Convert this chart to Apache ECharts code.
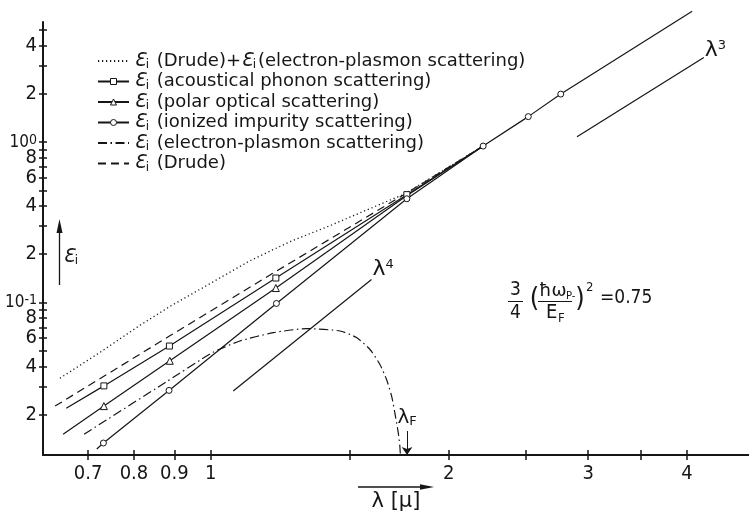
<!DOCTYPE html>
<html>
<head>
<meta charset="utf-8">
<script src="https://cdn.jsdelivr.net/npm/echarts@6.0.0/dist/echarts.min.js"></script>
<style>
html,body{margin:0;padding:0;background:#fff;}
#chart{width:749px;height:516px;}
</style>
</head>
<body>
<div id="chart"></div>
<script>
// ε_i versus wavelength λ [μm] for the individual absorption mechanisms
const drudeX = [0.636, 0.887, 1.209, 1.77, 2.21];
const drudeY = [0.0226, 0.0617, 0.156, 0.482, 0.944];

const sumX = [0.645, 0.725, 0.814, 0.888, 0.998, 1.121, 1.259, 1.415, 1.589, 1.759, 2.21];
const sumY = [0.0337, 0.0489, 0.0720, 0.0944, 0.131, 0.182, 0.239, 0.301, 0.384, 0.475, 0.944];

const acX = [0.657, 0.733, 0.887, 1.209, 1.77, 2.21];
const acY = [0.0219, 0.0302, 0.0535, 0.142, 0.47, 0.944];
const acMarked = [false, true, true, true, true, false];

const poX = [0.651, 0.733, 0.888, 1.209, 1.765, 2.21];
const poY = [0.0151, 0.0226, 0.0433, 0.123, 0.46, 0.944];
const poMarked = [false, true, true, true, false, false];

const iiX = [0.718, 0.732, 0.886, 1.211, 1.77, 2.21, 2.52, 2.77, 4.06];
const iiY = [0.0122, 0.0133, 0.0283, 0.0986, 0.443, 0.944, 1.44, 1.99, 6.54];
const iiMarked = [false, true, true, true, true, true, true, true, false];

const epX = [0.692, 0.880, 1.007, 1.089, 1.200, 1.322, 1.457, 1.529, 1.589, 1.636, 1.668, 1.693, 1.709, 1.726, 1.734, 1.737];
const epY = [0.0151, 0.0321, 0.0489, 0.0575, 0.0648, 0.0687, 0.0664, 0.0604, 0.0511, 0.0412, 0.0332, 0.0262, 0.0206, 0.0155, 0.0128, 0.0112];

// power-law guide lines
const l4X = [1.068, 1.597];
const l4Y = [0.0281, 0.139];
const l3X = [2.904, 4.20];
const l3Y = [1.079, 3.36];

// Fermi wavelength marker
const lambdaF = 1.771;
const lambdaFArrowY = [0.0158, 0.0112];

// axis ticks and labels
const xTicks = [0.7, 0.8, 0.9, 1, 1.5, 2, 2.5, 3, 3.5, 4];
const xLabels = [0.7, 0.8, 0.9, 1, 2, 3, 4];
const yTicks = [5, 4, 3, 2, 1, 0.9, 0.8, 0.7, 0.6, 0.5, 0.4, 0.3, 0.2,
                0.1, 0.09, 0.08, 0.07, 0.06, 0.05, 0.04, 0.03, 0.02];
const yLabels = [4, 2, 1, 0.8, 0.6, 0.4, 0.2, 0.1, 0.08, 0.06, 0.04, 0.02];

const X_MIN = 0.614, X_MAX = 4.79, Y_MIN = 0.0112, Y_MAX = 5.6;

const INK = '#161616';
const NUM_FONT = "'Liberation Sans Narrow','DejaVu Sans Condensed',sans-serif";
const TXT_FONT = "'DejaVu Sans',sans-serif";

function pts(xs, ys, marked) {
  return xs.map((x, i) => {
    const item = { value: [x, ys[i]] };
    if (marked && !marked[i]) item.symbol = 'none';
    return item;
  });
}

const legendText = {
  sum: '{e|Ɛ}{s|i} (Drude)+{e|Ɛ}{s|i}(electron-plasmon scattering)',
  ac: '{e|Ɛ}{s|i} (acoustical phonon scattering)',
  po: '{e|Ɛ}{s|i} (polar optical scattering)',
  ii: '{e|Ɛ}{s|i} (ionized impurity scattering)',
  ep: '{e|Ɛ}{s|i} (electron-plasmon scattering)',
  drude: '{e|Ɛ}{s|i} (Drude)'
};

const baseLine = { color: INK, width: 1.2 };
const openMark = { color: '#fff', borderColor: INK, borderWidth: 1 };
const noMark = { opacity: 0 };

const chart = echarts.init(document.getElementById('chart'), null, { renderer: 'canvas' });

const logAxisCommon = { type: 'log', logBase: 10, splitLine: { show: false }, minorTick: { show: false } };

chart.setOption({
  animation: false,
  backgroundColor: '#fff',
  grid: { left: 43, right: 0, top: 22, bottom: 61, containLabel: false, outerBoundsMode: 'none' },
  legend: {
    orient: 'vertical', left: 97, top: 51, padding: 0, itemGap: 0.5,
    itemWidth: 31, itemHeight: 7.5, selectedMode: false,
    data: [
      { name: 'sum', itemStyle: noMark },
      { name: 'ac', itemStyle: { color: '#fff', borderColor: INK, borderWidth: 1 } },
      { name: 'po', itemStyle: { color: '#fff', borderColor: INK, borderWidth: 1 } },
      { name: 'ii', itemStyle: { color: '#fff', borderColor: INK, borderWidth: 1 } },
      { name: 'ep', itemStyle: noMark },
      { name: 'drude', itemStyle: noMark }
    ],
    formatter: name => legendText[name],
    textStyle: {
      color: INK, fontFamily: TXT_FONT, fontSize: 18, lineHeight: 20,
      rich: {
        e: { fontFamily: TXT_FONT, fontStyle: 'italic', fontSize: 19, lineHeight: 20 },
        s: { fontSize: 12, lineHeight: 12, verticalAlign: 'bottom', padding: [0, 2, 0, 0] }
      }
    }
  },
  xAxis: [
    Object.assign({}, logAxisCommon, {
      min: X_MIN, max: X_MAX, position: 'bottom',
      axisLine: { show: true, lineStyle: { color: INK, width: 2 } },
      axisTick: { show: true, customValues: xTicks, length: 5, lineStyle: { color: INK, width: 1.5 } },
      axisLabel: {
        show: true, customValues: xLabels, margin: 9, hideOverlap: false,
        color: INK, fontFamily: NUM_FONT, fontSize: 20,
        formatter: v => String(Math.round(v * 10) / 10)
      },
      name: 'λ [μ]', nameLocation: 'middle', nameGap: 36,
      nameTextStyle: { color: INK, fontFamily: TXT_FONT, fontSize: 21 }
    }),
    Object.assign({}, logAxisCommon, {
      min: X_MIN, max: X_MAX, position: 'bottom',
      axisLine: { show: false },
      axisTick: { show: true, inside: true, customValues: xTicks, length: 5, lineStyle: { color: INK, width: 1.5 } },
      axisLabel: { show: false }
    })
  ],
  yAxis: [
    Object.assign({}, logAxisCommon, {
      min: Y_MIN, max: Y_MAX, position: 'left',
      axisLine: { show: true, lineStyle: { color: INK, width: 2 } },
      axisTick: { show: true, customValues: yTicks, length: 4, lineStyle: { color: INK, width: 1.5 } },
      axisLabel: {
        show: true, customValues: yLabels, margin: 6, hideOverlap: false,
        color: INK, fontFamily: NUM_FONT, fontSize: 20,
        formatter: v => {
          if (Math.abs(v - 1) < 1e-9) return '{b|10}{p|0}';
          if (Math.abs(v - 0.1) < 1e-9) return '{b|10}{p|-1}';
          const d = v >= 1 ? v : (v >= 0.1 ? v * 10 : v * 100);
          return String(Math.round(d));
        },
        rich: {
          b: { fontFamily: NUM_FONT, fontSize: 17, color: INK, verticalAlign: 'bottom', lineHeight: 18 },
          p: { fontFamily: NUM_FONT, fontSize: 14, color: INK, verticalAlign: 'top', lineHeight: 14 }
        }
      }
    }),
    Object.assign({}, logAxisCommon, {
      min: Y_MIN, max: Y_MAX, position: 'left',
      axisLine: { show: false },
      axisTick: { show: true, inside: true, customValues: yTicks, length: 4, lineStyle: { color: INK, width: 1.5 } },
      axisLabel: { show: false }
    })
  ],
  series: [
    {
      name: 'sum', type: 'line', symbol: 'none', data: pts(sumX, sumY),
      lineStyle: Object.assign({}, baseLine, { type: [1.2, 2.8], width: 1.3 }),
      itemStyle: { color: INK }
    },
    {
      name: 'drude', type: 'line', symbol: 'none', data: pts(drudeX, drudeY),
      lineStyle: Object.assign({}, baseLine, { type: [8, 5] }),
      itemStyle: { color: INK }
    },
    {
      name: 'ac', type: 'line', symbol: 'rect', symbolSize: 6, showAllSymbol: true,
      data: pts(acX, acY, acMarked),
      lineStyle: baseLine, itemStyle: openMark
    },
    {
      name: 'po', type: 'line', symbol: 'triangle', symbolSize: 7, showAllSymbol: true,
      data: pts(poX, poY, poMarked),
      lineStyle: baseLine, itemStyle: openMark
    },
    {
      name: 'ii', type: 'line', symbol: 'circle', symbolSize: 6, showAllSymbol: true, clip: false,
      data: pts(iiX, iiY, iiMarked),
      lineStyle: baseLine, itemStyle: openMark
    },
    {
      name: 'ep', type: 'line', symbol: 'none', smooth: 0.2, data: pts(epX, epY),
      lineStyle: Object.assign({}, baseLine, { type: [9, 3.5, 1.5, 3.5] }),
      itemStyle: { color: INK },
      markLine: {
        silent: true, symbol: ['none', 'arrow'], symbolSize: 8,
        lineStyle: { color: INK, width: 1, type: 'solid' },
        itemStyle: { color: INK },
        label: {
          show: true, position: 'start', distance: 3, color: INK,
          formatter: '{l|λ}{f|F}',
          rich: {
            l: { fontFamily: TXT_FONT, fontSize: 20, color: INK },
            f: { fontFamily: TXT_FONT, fontSize: 13, color: INK, verticalAlign: 'bottom', lineHeight: 14 }
          }
        },
        data: [[{ coord: [lambdaF, lambdaFArrowY[0]] }, { coord: [lambdaF, lambdaFArrowY[1]] }]]
      }
    },
    {
      name: 'λ4', type: 'line', symbol: 'none', data: pts(l4X, l4Y),
      lineStyle: baseLine, itemStyle: { color: INK },
      endLabel: {
        show: true, distance: 1, offset: [0, -10], color: INK,
        formatter: () => '{l|λ}{n|4}',
        rich: {
          l: { fontFamily: TXT_FONT, fontSize: 22, color: INK },
          n: { fontFamily: TXT_FONT, fontSize: 13, color: INK, verticalAlign: 'top', lineHeight: 13 }
        }
      }
    },
    {
      name: 'λ3', type: 'line', symbol: 'none', data: pts(l3X, l3Y),
      lineStyle: baseLine, itemStyle: { color: INK },
      endLabel: {
        show: true, distance: 1, offset: [0, -7], color: INK,
        formatter: () => '{l|λ}{n|3}',
        rich: {
          l: { fontFamily: TXT_FONT, fontSize: 22, color: INK },
          n: { fontFamily: TXT_FONT, fontSize: 13, color: INK, verticalAlign: 'top', lineHeight: 13 }
        }
      }
    }
  ],
  graphic: [
    // ε_i axis caption with upward arrow
    { type: 'line', shape: { x1: 59.5, y1: 285, x2: 59.5, y2: 230 }, style: { stroke: INK, lineWidth: 1.3 } },
    { type: 'polygon', shape: { points: [[59.5, 219], [56.5, 233], [62.5, 233]] }, style: { fill: INK } },
    {
      type: 'text', x: 63, y: 247,
      style: {
        text: '{e|Ɛ}{s|i}', fill: INK,
        rich: {
          e: { fontFamily: TXT_FONT, fontStyle: 'italic', fontSize: 19, lineHeight: 20, fill: INK },
          s: { fontFamily: TXT_FONT, fontSize: 12, lineHeight: 12, verticalAlign: 'bottom', fill: INK }
        }
      }
    },
    // λ axis caption arrow
    { type: 'line', shape: { x1: 358, y1: 487, x2: 422, y2: 487 }, style: { stroke: INK, lineWidth: 1.3 } },
    { type: 'polygon', shape: { points: [[434, 487], [420, 484.3], [420, 489.7]] }, style: { fill: INK } },
    // plasma parameter annotation
    { type: 'text', x: 515.5, y: 290.5, style: { text: '3', fill: INK, font: '19px ' + NUM_FONT, align: 'center', verticalAlign: 'middle' } },
    { type: 'line', shape: { x1: 508, y1: 301.5, x2: 523, y2: 301.5 }, style: { stroke: INK, lineWidth: 1 } },
    { type: 'text', x: 515.5, y: 313, style: { text: '4', fill: INK, font: '19px ' + NUM_FONT, align: 'center', verticalAlign: 'middle' } },
    { type: 'text', x: 534.5, y: 299, style: { text: '(', fill: INK, font: '27px ' + NUM_FONT, align: 'center', verticalAlign: 'middle' } },
    { type: 'text', x: 539, y: 291.5, style: { text: 'ħω', fill: INK, font: '18px ' + TXT_FONT, align: 'left', verticalAlign: 'middle' } },
    { type: 'text', x: 566, y: 296, style: { text: 'P-', fill: INK, font: '10px ' + TXT_FONT, align: 'left', verticalAlign: 'middle' } },
    { type: 'line', shape: { x1: 538, y1: 301.5, x2: 572, y2: 301.5 }, style: { stroke: INK, lineWidth: 1 } },
    { type: 'text', x: 546, y: 312.5, style: { text: 'E', fill: INK, font: '20px ' + NUM_FONT, align: 'left', verticalAlign: 'middle' } },
    { type: 'text', x: 558, y: 318.5, style: { text: 'F', fill: INK, font: '13px ' + NUM_FONT, align: 'left', verticalAlign: 'middle' } },
    { type: 'text', x: 580, y: 299, style: { text: ')', fill: INK, font: '27px ' + NUM_FONT, align: 'center', verticalAlign: 'middle' } },
    { type: 'text', x: 586, y: 288, style: { text: '2', fill: INK, font: '13px ' + NUM_FONT, align: 'left', verticalAlign: 'middle' } },
    { type: 'text', x: 600, y: 298.5, style: { text: '=0.75', fill: INK, font: '19px ' + NUM_FONT, align: 'left', verticalAlign: 'middle' } }
  ]
});
</script>
</body>
</html>
